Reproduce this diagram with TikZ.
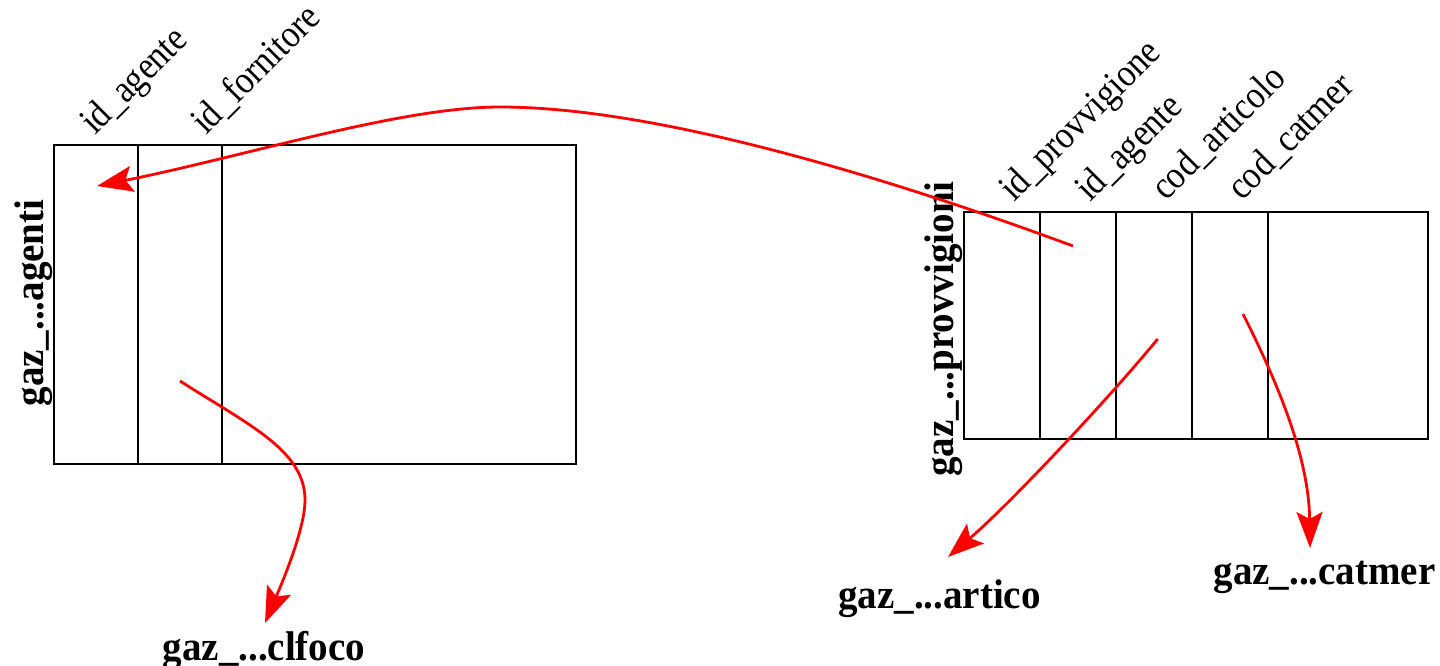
\documentclass[tikz,border=0pt]{standalone}
\usepackage{fontspec}
\setmainfont{Liberation Serif}
\newfontfamily\colfont[FakeStretch=0.88]{Liberation Serif}
\newfontfamily\reffont[FakeStretch=0.94]{Liberation Serif Bold}
\usetikzlibrary{arrows.meta}
\begin{document}
\begin{tikzpicture}[x=1pt,y=-1pt,
  tbl/.style={draw=black, line width=1.7pt, rectangle, inner sep=0pt, outer sep=0pt},
  div/.style={draw=black, line width=1.7pt},
  col/.style={font=\colfont\fontsize{39}{42}\selectfont, rotate=45, anchor=base west, inner sep=0pt},
  tname/.style={font=\reffont\fontsize{41.5}{46}\selectfont, rotate=90, anchor=base, inner sep=0pt},
  ref/.style={font=\reffont\fontsize{41.5}{46}\selectfont, anchor=base, inner sep=0pt},
  fk/.style={draw=red, line width=2.8pt, -{Stealth[length=36pt,width=26pt,inset=7pt]}}
]
\useasboundingbox (0,0) rectangle (1440,666);

% tables
\node[tbl, minimum width=522pt, minimum height=319pt] (agenti) at (315,304.5) {};
\foreach \o in {84,168}
  \draw[div] ([xshift=\o pt]agenti.north west) -- ([xshift=\o pt]agenti.south west);
\node[tbl, minimum width=464pt, minimum height=227pt] (provv) at (1196,325.5) {};
\foreach \o in {76,152,228,304}
  \draw[div] ([xshift=\o pt]provv.north west) -- ([xshift=\o pt]provv.south west);

% table names
\node[tname] (tagenti) at (43,303) {gaz\_...agenti};
\node[tname] (tprovv) at (953,329) {gaz\_...provvigioni};

% column labels
\node[col] (ca1) at (95,136) {id\_agente};
\node[col] (ca2) at (206,136) {id\_fornitore};
\node[col] (cp1) at (1014,203) {id\_provvigione};
\node[col] (cp2) at (1090,203) {id\_agente};
\node[col] (cp3) at (1166,202) {cod\_articolo};
\node[col] (cp4) at (1242,202) {cod\_catmer};

% referenced tables
\node[ref] (clfoco) at (264,660) {gaz\_...clfoco};
\node[ref] (artico) at (939.5,608) {gaz\_...artico};
\node[ref] (catmer) at (1324.5,584) {gaz\_...catmer};

% connector ends
\coordinate (s1) at (1073,246);
\coordinate (e1) at (97,186);
\coordinate (s2) at (180,381);
\coordinate (e2) at (265,623);
\coordinate (s3) at (1157.7,339);
\coordinate (e3) at (948,557);
\coordinate (s4) at (1243,314);
\coordinate (e4) at (1310,548);

\draw[fk] (s1) .. controls (873,172) and (650,107) .. (500,107)
               .. controls (400,107) and (247,156) .. (e1);
\draw[fk] (s2) .. controls (247,424) and (305,450) .. (305,500)
               .. controls (305,530) and (280.6,586.2) .. (e2);
\draw[fk] (s3) .. controls (1107,400.6) and (1008.8,505) .. (e3);
\draw[fk] (s4) .. controls (1288,403) and (1309,468) .. (e4);
\end{tikzpicture}
\end{document}
